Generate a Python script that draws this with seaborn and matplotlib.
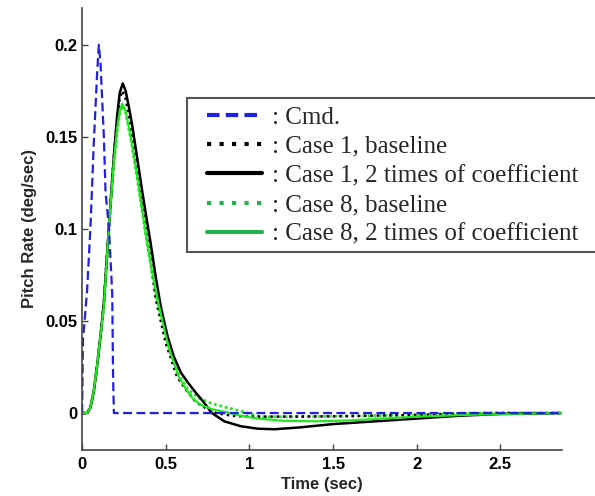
import matplotlib
matplotlib.use('Agg')
import matplotlib.pyplot as plt
from matplotlib.lines import Line2D
from matplotlib.patches import Rectangle
import seaborn as sns

# Command pulse
t_cmd = [0, 0.005, 0.015, 0.03, 0.05, 0.07, 0.09, 0.1, 0.11, 0.13, 0.14, 0.16, 0.18, 0.185, 0.19, 2.87]
cmd = [0, 0.04, 0.05, 0.067, 0.101, 0.147, 0.185, 0.2, 0.19, 0.15, 0.12, 0.101, 0.065, 0.02, 0, 0]

# Case 1, 2 times of coefficient (black solid)
t_c1x2 = [0, 0.03, 0.05, 0.07, 0.09, 0.11, 0.13, 0.16, 0.19, 0.21, 0.225, 0.243, 0.26, 0.28, 0.3, 0.33,
          0.36, 0.39, 0.41, 0.44, 0.47, 0.51, 0.547, 0.59, 0.637, 0.68, 0.717, 0.776, 0.85, 0.95, 1.05,
          1.15, 1.3, 1.5, 1.75, 2.0, 2.25, 2.5, 2.87]
c1x2 = [0, 0, 0.003, 0.012, 0.026, 0.042, 0.06, 0.101, 0.14, 0.162, 0.174, 0.179, 0.175, 0.166, 0.156, 0.138,
        0.12, 0.103, 0.092, 0.074, 0.058, 0.042, 0.031, 0.022, 0.016, 0.011, 0.007, 0.0, -0.0045, -0.0072, -0.0085,
        -0.0088, -0.0078, -0.006, -0.0045, -0.003, -0.0015, -0.0005, 0]

# Case 1, baseline (black dotted)
t_c1b = [0, 0.03, 0.05, 0.07, 0.09, 0.11, 0.13, 0.16, 0.19, 0.21, 0.225, 0.24, 0.26, 0.28, 0.3, 0.33,
         0.36, 0.39, 0.41, 0.44, 0.5, 0.566, 0.617, 0.68, 0.75, 0.8, 0.9, 1.0, 1.5, 2.0, 2.4, 2.87]
c1b = [0, 0, 0.003, 0.012, 0.026, 0.042, 0.06, 0.101, 0.14, 0.16, 0.171, 0.175, 0.171, 0.161, 0.15, 0.13,
       0.112, 0.094, 0.083, 0.062, 0.038, 0.02, 0.013, 0.006, 0.002, 0.0, -0.0015, -0.002, -0.0018, -0.001, 0, 0]

# Case 8, 2 times of coefficient (green solid)
t_c8x2 = [0, 0.03, 0.05, 0.07, 0.09, 0.11, 0.13, 0.16, 0.19, 0.21, 0.225, 0.24, 0.26, 0.28, 0.3, 0.33,
          0.36, 0.39, 0.42, 0.46, 0.5, 0.527, 0.576, 0.62, 0.66, 0.707, 0.78, 0.886, 0.95, 1.05, 1.2,
          1.4, 1.6, 1.8, 2.0, 2.3, 2.6, 2.87]
c8x2 = [0, 0, 0.003, 0.012, 0.026, 0.042, 0.058, 0.101, 0.137, 0.155, 0.164, 0.168, 0.164, 0.155, 0.145, 0.128,
        0.11, 0.092, 0.076, 0.058, 0.042, 0.033, 0.02, 0.013, 0.008, 0.0045, 0.002, 0.0, -0.0015, -0.003, -0.0042,
        -0.0045, -0.004, -0.003, -0.002, -0.001, -0.0004, 0]

# Case 8, baseline (green dotted)
t_c8b = [0, 0.03, 0.05, 0.07, 0.09, 0.11, 0.13, 0.16, 0.19, 0.21, 0.225, 0.24, 0.26, 0.28, 0.3, 0.33,
         0.36, 0.39, 0.42, 0.46, 0.5, 0.527, 0.576, 0.63, 0.7, 0.78, 0.886, 0.97, 1.066, 1.3, 1.7, 2.0, 2.3, 2.87]
c8b = [0, 0, 0.003, 0.012, 0.026, 0.042, 0.058, 0.1, 0.135, 0.153, 0.163, 0.167, 0.163, 0.154, 0.144, 0.127,
       0.109, 0.091, 0.075, 0.056, 0.042, 0.033, 0.021, 0.013, 0.008, 0.005, 0.0025, 0.0005, -0.002, -0.002,
       -0.0015, -0.001, 0, 0]

labels = [': Cmd.', ': Case 1, baseline', ': Case 1, 2 times of coefficient',
          ': Case 8, baseline', ': Case 8, 2 times of coefficient']

sns.set_style('ticks')
plt.rcParams['font.family'] = ['Liberation Sans', 'DejaVu Sans']

W, H = 595, 496
fig = plt.figure(figsize=(W / 100, H / 100), dpi=100)
ax = fig.add_axes([0.138, 0.093, 0.807, 0.891])

green_plot = '#22e622'
green_leg = '#22b14c'

sns.lineplot(x=t_c8b, y=c8b, ax=ax, color=green_plot, linestyle=(0, (1, 1)), linewidth=2.0, estimator=None, sort=False)
sns.lineplot(x=t_c1b, y=c1b, ax=ax, color='black', linestyle=(0, (1, 1.5)), linewidth=1.8, estimator=None, sort=False)
sns.lineplot(x=t_c1x2, y=c1x2, ax=ax, color='black', linewidth=1.8, estimator=None, sort=False)
sns.lineplot(x=t_c8x2, y=c8x2, ax=ax, color=green_plot, linewidth=1.6, estimator=None, sort=False)
sns.lineplot(x=t_cmd, y=cmd, ax=ax, color='#1f1fe6', linestyle=(0, (4, 2)), linewidth=1.6, estimator=None, sort=False)

ax.set_xlim(0, 2.87)
ax.set_ylim(-0.02, 0.22)
ax.set_xticks([0, 0.5, 1, 1.5, 2, 2.5])
ax.set_xticklabels(['0', '0.5', '1', '1.5', '2', '2.5'])
ax.set_yticks([0, 0.05, 0.1, 0.15, 0.2])
ax.set_yticklabels(['0', '0.05', '0.1', '0.15', '0.2'])
ax.tick_params(direction='in', length=4, width=1, colors='#444444', labelcolor='black', labelsize=12)
ax.tick_params(axis='x', pad=5)
for lab in ax.get_xticklabels() + ax.get_yticklabels():
    lab.set_fontweight('bold')
ax.set_xlabel('Time (sec)', fontsize=12, fontweight='bold', labelpad=4)
ax.set_ylabel('Pitch Rate (deg/sec)', fontsize=12, fontweight='bold', labelpad=6)
sns.despine(ax=ax)
for s in ['left', 'bottom']:
    ax.spines[s].set_color('#444444')
    ax.spines[s].set_linewidth(1.2)

# legend box (runs off the right edge like the original)
fig.patches.append(Rectangle((187 / W, 1 - 252 / H), 420 / W, 154 / H, transform=fig.transFigure,
                             facecolor='white', edgecolor='#555555', linewidth=1.5, zorder=5))

handles = [
    Line2D([], [], color='#1f1fe6', linestyle=(0, (3, 1.5)), linewidth=3),
    Line2D([], [], color='black', linestyle=(0, (1, 2)), linewidth=3),
    Line2D([], [], color='black', linewidth=3),
    Line2D([], [], color=green_leg, linestyle=(0, (1, 2)), linewidth=3),
    Line2D([], [], color=green_leg, linewidth=3),
]
leg = fig.legend(handles, labels, loc='upper left', bbox_to_anchor=(207 / W, 1 - 106 / H),
                 prop={'family': 'Liberation Serif', 'size': 18}, frameon=False,
                 handlelength=2.2, handletextpad=0.4, labelspacing=0.27, borderpad=0,
                 borderaxespad=0)
leg.set_zorder(6)

fig.savefig('out.png', dpi=100)
